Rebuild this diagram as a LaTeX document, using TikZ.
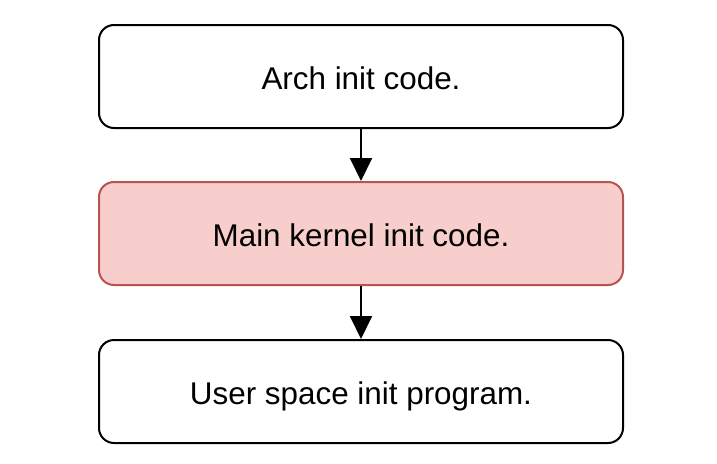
\documentclass[tikz,border=0pt]{standalone}
\usepackage{fontspec}
\setmainfont{Liberation Sans}
\definecolor{KernelFill}{RGB}{248, 206, 204}
\definecolor{KernelLine}{RGB}{184, 84, 80}
\usetikzlibrary{arrows.meta, positioning}

\begin{document}
\begin{tikzpicture}[x=1pt, y=1pt, font=\fontsize{31.4}{36}\selectfont,
  stagebox/.style={draw=black, line width=2pt, rounded corners=15pt, fill=white, minimum width=524pt, minimum height=103pt, inner sep=0pt, text height=28pt, text depth=3pt},
  flow/.style={line width=2pt, -{Triangle[length=23pt, width=22pt]}}]
\useasboundingbox (0,0) rectangle (717,-463);
\node[stagebox] (arch) at (361,-76.5) {Arch init code.};
\node[stagebox, fill=KernelFill, draw=KernelLine, below=52pt of arch] (kernel) {Main kernel init code.};
\node[stagebox, below=53pt of kernel] (user) {User space init program.};
\draw[flow] (arch) -- (kernel);
\draw[flow] (kernel) -- (user);
\end{tikzpicture}
\end{document}
